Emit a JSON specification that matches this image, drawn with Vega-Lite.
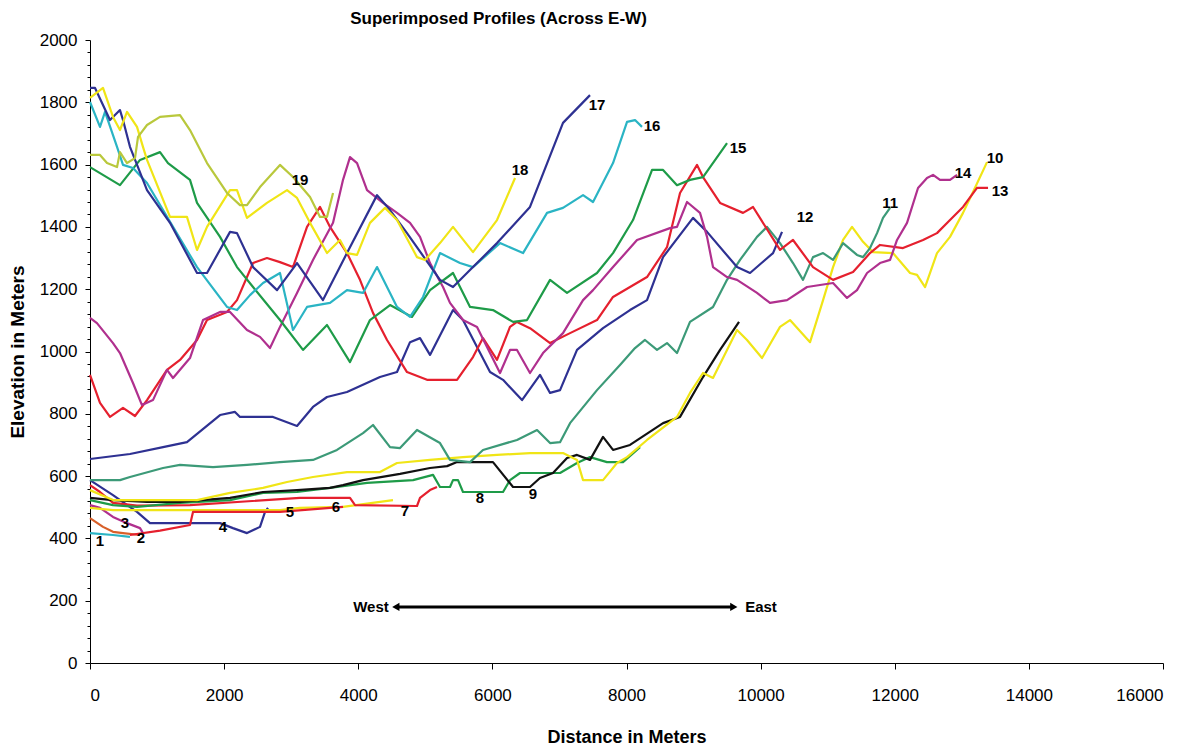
{
"$schema": "https://vega.github.io/schema/vega-lite/v6.json",
"width": 1073, "height": 623,
"autosize": "none",
"padding": {"left": 90, "top": 40, "right": 34, "bottom": 88},
"background": "white",
"config": {"view": {"stroke": null}},
"title": {"text": "Superimposed Profiles (Across E-W)", "font": "Liberation Sans", "fontSize": 17, "fontWeight": "bold", "anchor": "middle", "dx": -128, "offset": 3, "color": "black"},
"resolve": {"axis": {"y": "independent"}},
"datasets": {
"lines": [
{"s":"1","x":0,"y":417},{"s":"1","x":343,"y":411},{"s":"1","x":596,"y":405},
{"s":"2","x":0,"y":465},{"s":"2","x":194,"y":437},{"s":"2","x":343,"y":421},{"s":"2","x":492,"y":417},{"s":"2","x":746,"y":411},
{"s":"3","x":0,"y":507},{"s":"3","x":149,"y":498},{"s":"3","x":343,"y":469},{"s":"3","x":552,"y":449},{"s":"3","x":746,"y":433},{"s":"3","x":790,"y":417},
{"s":"4","x":0,"y":587},{"s":"4","x":343,"y":539},{"s":"4","x":701,"y":485},{"s":"4","x":895,"y":449},{"s":"4","x":1939,"y":449},{"s":"4","x":2132,"y":433},{"s":"4","x":2341,"y":417},{"s":"4","x":2535,"y":437},{"s":"4","x":2610,"y":485},{"s":"4","x":2654,"y":498},
{"s":"5","x":0,"y":498},{"s":"5","x":343,"y":491},{"s":"5","x":2833,"y":491},{"s":"5","x":3131,"y":498},{"s":"5","x":3773,"y":501},{"s":"5","x":4518,"y":523},
{"s":"6","x":596,"y":411},{"s":"6","x":1044,"y":425},{"s":"6","x":1491,"y":443},{"s":"6","x":1536,"y":485},{"s":"6","x":2833,"y":485},{"s":"6","x":3579,"y":498},{"s":"6","x":3773,"y":501},
{"s":"7","x":0,"y":571},{"s":"7","x":149,"y":549},{"s":"7","x":343,"y":514},{"s":"7","x":701,"y":505},{"s":"7","x":1491,"y":507},{"s":"7","x":3131,"y":530},{"s":"7","x":3877,"y":530},{"s":"7","x":3952,"y":507},{"s":"7","x":4876,"y":504},{"s":"7","x":4921,"y":530},{"s":"7","x":5070,"y":555},{"s":"7","x":5174,"y":565},
{"s":"8","x":0,"y":523},{"s":"8","x":343,"y":507},{"s":"8","x":701,"y":501},{"s":"8","x":1342,"y":514},{"s":"8","x":2088,"y":523},{"s":"8","x":2580,"y":546},{"s":"8","x":3087,"y":549},{"s":"8","x":3579,"y":562},{"s":"8","x":4131,"y":578},{"s":"8","x":4817,"y":587},{"s":"8","x":5115,"y":604},{"s":"8","x":5219,"y":565},{"s":"8","x":5368,"y":565},{"s":"8","x":5413,"y":587},{"s":"8","x":5488,"y":587},{"s":"8","x":5562,"y":549},{"s":"8","x":6159,"y":549},{"s":"8","x":6263,"y":587},{"s":"8","x":6412,"y":610},{"s":"8","x":7009,"y":610},{"s":"8","x":7262,"y":642},{"s":"8","x":7456,"y":661},{"s":"8","x":7709,"y":645},{"s":"8","x":7948,"y":645},{"s":"8","x":8202,"y":693},
{"s":"9","x":0,"y":530},{"s":"9","x":343,"y":523},{"s":"9","x":850,"y":517},{"s":"9","x":1342,"y":517},{"s":"9","x":2088,"y":530},{"s":"9","x":2580,"y":549},{"s":"9","x":3087,"y":555},{"s":"9","x":3579,"y":562},{"s":"9","x":3773,"y":571},{"s":"9","x":4071,"y":587},{"s":"9","x":4623,"y":607},{"s":"9","x":5070,"y":626},{"s":"9","x":5324,"y":632},{"s":"9","x":5473,"y":645},{"s":"9","x":6009,"y":645},{"s":"9","x":6308,"y":565},{"s":"9","x":6561,"y":565},{"s":"9","x":6710,"y":594},{"s":"9","x":6904,"y":610},{"s":"9","x":7113,"y":658},{"s":"9","x":7262,"y":668},{"s":"9","x":7456,"y":652},{"s":"9","x":7650,"y":726},{"s":"9","x":7799,"y":684},{"s":"9","x":8052,"y":700},{"s":"9","x":8545,"y":770},{"s":"9","x":8798,"y":790},{"s":"9","x":9141,"y":918},{"s":"9","x":9395,"y":1005},{"s":"9","x":9678,"y":1095},
{"s":"10","x":0,"y":555},{"s":"10","x":343,"y":523},{"s":"10","x":1596,"y":523},{"s":"10","x":2088,"y":546},{"s":"10","x":2580,"y":562},{"s":"10","x":2938,"y":581},{"s":"10","x":3325,"y":597},{"s":"10","x":3832,"y":613},{"s":"10","x":4324,"y":613},{"s":"10","x":4578,"y":642},{"s":"10","x":5070,"y":652},{"s":"10","x":5562,"y":661},{"s":"10","x":6069,"y":668},{"s":"10","x":6561,"y":674},{"s":"10","x":7053,"y":674},{"s":"10","x":7262,"y":652},{"s":"10","x":7352,"y":587},{"s":"10","x":7650,"y":587},{"s":"10","x":7858,"y":642},{"s":"10","x":8008,"y":661},{"s":"10","x":8306,"y":716},{"s":"10","x":8753,"y":790},{"s":"10","x":8947,"y":867},{"s":"10","x":9141,"y":931},{"s":"10","x":9290,"y":915},{"s":"10","x":9499,"y":1005},{"s":"10","x":9648,"y":1069},{"s":"10","x":9797,"y":1037},{"s":"10","x":10021,"y":979},{"s":"10","x":10289,"y":1079},{"s":"10","x":10438,"y":1101},{"s":"10","x":10737,"y":1030},{"s":"10","x":10931,"y":1165},{"s":"10","x":11080,"y":1271},{"s":"10","x":11229,"y":1358},{"s":"10","x":11363,"y":1400},{"s":"10","x":11527,"y":1352},{"s":"10","x":11676,"y":1319},{"s":"10","x":11974,"y":1316},{"s":"10","x":12228,"y":1252},{"s":"10","x":12332,"y":1246},{"s":"10","x":12452,"y":1207},{"s":"10","x":12630,"y":1316},{"s":"10","x":12824,"y":1368},{"s":"10","x":13018,"y":1445},{"s":"10","x":13167,"y":1512},{"s":"10","x":13376,"y":1608},
{"s":"11","x":0,"y":587},{"s":"11","x":447,"y":587},{"s":"11","x":596,"y":597},{"s":"11","x":1089,"y":626},{"s":"11","x":1342,"y":636},{"s":"11","x":1834,"y":629},{"s":"11","x":2341,"y":636},{"s":"11","x":2833,"y":645},{"s":"11","x":3325,"y":652},{"s":"11","x":3683,"y":684},{"s":"11","x":4071,"y":738},{"s":"11","x":4220,"y":764},{"s":"11","x":4474,"y":693},{"s":"11","x":4623,"y":690},{"s":"11","x":4876,"y":748},{"s":"11","x":5219,"y":706},{"s":"11","x":5368,"y":652},{"s":"11","x":5667,"y":645},{"s":"11","x":5860,"y":684},{"s":"11","x":6367,"y":716},{"s":"11","x":6666,"y":748},{"s":"11","x":6860,"y":706},{"s":"11","x":7009,"y":709},{"s":"11","x":7158,"y":770},{"s":"11","x":7560,"y":876},{"s":"11","x":7903,"y":957},{"s":"11","x":8127,"y":1011},{"s":"11","x":8276,"y":1037},{"s":"11","x":8455,"y":1005},{"s":"11","x":8604,"y":1027},{"s":"11","x":8753,"y":995},{"s":"11","x":8947,"y":1095},{"s":"11","x":9290,"y":1143},{"s":"11","x":9499,"y":1230},{"s":"11","x":9693,"y":1294},{"s":"11","x":9946,"y":1368},{"s":"11","x":10095,"y":1400},{"s":"11","x":10289,"y":1348},{"s":"11","x":10483,"y":1284},{"s":"11","x":10632,"y":1230},{"s":"11","x":10781,"y":1303},{"s":"11","x":10931,"y":1316},{"s":"11","x":11080,"y":1294},{"s":"11","x":11229,"y":1348},{"s":"11","x":11437,"y":1310},{"s":"11","x":11527,"y":1303},{"s":"11","x":11631,"y":1332},{"s":"11","x":11736,"y":1380},{"s":"11","x":11825,"y":1429},{"s":"11","x":11930,"y":1461},
{"s":"12","x":0,"y":655},{"s":"12","x":596,"y":671},{"s":"12","x":1089,"y":693},{"s":"12","x":1446,"y":709},{"s":"12","x":1939,"y":796},{"s":"12","x":2162,"y":806},{"s":"12","x":2237,"y":790},{"s":"12","x":2729,"y":790},{"s":"12","x":3087,"y":761},{"s":"12","x":3325,"y":822},{"s":"12","x":3534,"y":854},{"s":"12","x":3832,"y":870},{"s":"12","x":4324,"y":918},{"s":"12","x":4578,"y":934},{"s":"12","x":4772,"y":1030},{"s":"12","x":4921,"y":1043},{"s":"12","x":5070,"y":989},{"s":"12","x":5413,"y":1133},{"s":"12","x":5562,"y":1101},{"s":"12","x":5965,"y":934},{"s":"12","x":6159,"y":909},{"s":"12","x":6442,"y":844},{"s":"12","x":6710,"y":925},{"s":"12","x":6860,"y":867},{"s":"12","x":7009,"y":876},{"s":"12","x":7262,"y":1005},{"s":"12","x":7650,"y":1075},{"s":"12","x":8052,"y":1133},{"s":"12","x":8306,"y":1165},{"s":"12","x":8545,"y":1303},{"s":"12","x":8992,"y":1429},{"s":"12","x":9201,"y":1384},{"s":"12","x":9648,"y":1271},{"s":"12","x":9842,"y":1252},{"s":"12","x":10185,"y":1316},{"s":"12","x":10319,"y":1384},
{"s":"13","x":0,"y":925},{"s":"13","x":149,"y":835},{"s":"13","x":298,"y":790},{"s":"13","x":492,"y":819},{"s":"13","x":671,"y":793},{"s":"13","x":850,"y":844},{"s":"13","x":1148,"y":941},{"s":"13","x":1342,"y":973},{"s":"13","x":1596,"y":1037},{"s":"13","x":1745,"y":1101},{"s":"13","x":2043,"y":1127},{"s":"13","x":2192,"y":1165},{"s":"13","x":2431,"y":1284},{"s":"13","x":2639,"y":1300},{"s":"13","x":2833,"y":1287},{"s":"13","x":3027,"y":1271},{"s":"13","x":3236,"y":1400},{"s":"13","x":3430,"y":1464},{"s":"13","x":3579,"y":1400},{"s":"13","x":3832,"y":1316},{"s":"13","x":4026,"y":1230},{"s":"13","x":4220,"y":1124},{"s":"13","x":4429,"y":1037},{"s":"13","x":4727,"y":934},{"s":"13","x":5025,"y":909},{"s":"13","x":5473,"y":909},{"s":"13","x":5711,"y":982},{"s":"13","x":5860,"y":1043},{"s":"13","x":6069,"y":973},{"s":"13","x":6263,"y":1079},{"s":"13","x":6367,"y":1095},{"s":"13","x":6561,"y":1075},{"s":"13","x":6860,"y":1027},{"s":"13","x":7158,"y":1059},{"s":"13","x":7560,"y":1101},{"s":"13","x":7799,"y":1175},{"s":"13","x":8306,"y":1239},{"s":"13","x":8604,"y":1335},{"s":"13","x":8798,"y":1509},{"s":"13","x":9052,"y":1599},{"s":"13","x":9141,"y":1560},{"s":"13","x":9395,"y":1477},{"s":"13","x":9738,"y":1445},{"s":"13","x":9887,"y":1464},{"s":"13","x":10289,"y":1326},{"s":"13","x":10483,"y":1358},{"s":"13","x":10781,"y":1271},{"s":"13","x":11080,"y":1230},{"s":"13","x":11378,"y":1255},{"s":"13","x":11631,"y":1316},{"s":"13","x":11780,"y":1342},{"s":"13","x":12123,"y":1332},{"s":"13","x":12422,"y":1358},{"s":"13","x":12630,"y":1380},{"s":"13","x":12824,"y":1422},{"s":"13","x":13018,"y":1464},{"s":"13","x":13227,"y":1525},{"s":"13","x":13391,"y":1525},
{"s":"14","x":0,"y":1108},{"s":"14","x":104,"y":1091},{"s":"14","x":343,"y":1027},{"s":"14","x":447,"y":995},{"s":"14","x":641,"y":899},{"s":"14","x":775,"y":828},{"s":"14","x":939,"y":844},{"s":"14","x":1148,"y":941},{"s":"14","x":1238,"y":915},{"s":"14","x":1491,"y":979},{"s":"14","x":1685,"y":1101},{"s":"14","x":1939,"y":1127},{"s":"14","x":2088,"y":1127},{"s":"14","x":2341,"y":1069},{"s":"14","x":2535,"y":1047},{"s":"14","x":2684,"y":1011},{"s":"14","x":2833,"y":1079},{"s":"14","x":3087,"y":1188},{"s":"14","x":3325,"y":1294},{"s":"14","x":3624,"y":1413},{"s":"14","x":3773,"y":1551},{"s":"14","x":3877,"y":1624},{"s":"14","x":3982,"y":1605},{"s":"14","x":4131,"y":1518},{"s":"14","x":4369,"y":1477},{"s":"14","x":4578,"y":1445},{"s":"14","x":4772,"y":1413},{"s":"14","x":4921,"y":1368},{"s":"14","x":5070,"y":1284},{"s":"14","x":5264,"y":1207},{"s":"14","x":5368,"y":1156},{"s":"14","x":5562,"y":1101},{"s":"14","x":5771,"y":1079},{"s":"14","x":5965,"y":995},{"s":"14","x":6114,"y":931},{"s":"14","x":6263,"y":1005},{"s":"14","x":6367,"y":1005},{"s":"14","x":6561,"y":931},{"s":"14","x":6755,"y":995},{"s":"14","x":7053,"y":1059},{"s":"14","x":7352,"y":1165},{"s":"14","x":7501,"y":1197},{"s":"14","x":7799,"y":1271},{"s":"14","x":8157,"y":1358},{"s":"14","x":8649,"y":1396},{"s":"14","x":8753,"y":1400},{"s":"14","x":8903,"y":1480},{"s":"14","x":9096,"y":1445},{"s":"14","x":9201,"y":1368},{"s":"14","x":9290,"y":1271},{"s":"14","x":9499,"y":1239},{"s":"14","x":9648,"y":1230},{"s":"14","x":9946,"y":1188},{"s":"14","x":10140,"y":1156},{"s":"14","x":10394,"y":1165},{"s":"14","x":10692,"y":1207},{"s":"14","x":11080,"y":1220},{"s":"14","x":11288,"y":1172},{"s":"14","x":11437,"y":1197},{"s":"14","x":11587,"y":1252},{"s":"14","x":11780,"y":1284},{"s":"14","x":11930,"y":1294},{"s":"14","x":12034,"y":1358},{"s":"14","x":12183,"y":1413},{"s":"14","x":12347,"y":1525},{"s":"14","x":12481,"y":1557},{"s":"14","x":12571,"y":1567},{"s":"14","x":12675,"y":1551},{"s":"14","x":12824,"y":1551},{"s":"14","x":12929,"y":1567},
{"s":"15","x":0,"y":1592},{"s":"15","x":447,"y":1534},{"s":"15","x":746,"y":1615},{"s":"15","x":1044,"y":1640},{"s":"15","x":1163,"y":1605},{"s":"15","x":1491,"y":1551},{"s":"15","x":1596,"y":1477},{"s":"15","x":1939,"y":1368},{"s":"15","x":2192,"y":1271},{"s":"15","x":2431,"y":1207},{"s":"15","x":2833,"y":1101},{"s":"15","x":3176,"y":1005},{"s":"15","x":3534,"y":1085},{"s":"15","x":3877,"y":966},{"s":"15","x":4175,"y":1101},{"s":"15","x":4474,"y":1149},{"s":"15","x":4802,"y":1111},{"s":"15","x":5070,"y":1197},{"s":"15","x":5413,"y":1252},{"s":"15","x":5667,"y":1143},{"s":"15","x":6009,"y":1133},{"s":"15","x":6308,"y":1095},{"s":"15","x":6517,"y":1101},{"s":"15","x":6860,"y":1230},{"s":"15","x":7113,"y":1188},{"s":"15","x":7560,"y":1252},{"s":"15","x":7799,"y":1316},{"s":"15","x":8097,"y":1422},{"s":"15","x":8381,"y":1583},{"s":"15","x":8545,"y":1583},{"s":"15","x":8753,"y":1534},{"s":"15","x":8947,"y":1551},{"s":"15","x":9141,"y":1560},{"s":"15","x":9499,"y":1669},
{"s":"16","x":0,"y":1801},{"s":"16","x":149,"y":1721},{"s":"16","x":224,"y":1769},{"s":"16","x":403,"y":1657},{"s":"16","x":492,"y":1599},{"s":"16","x":641,"y":1589},{"s":"16","x":850,"y":1541},{"s":"16","x":1238,"y":1400},{"s":"16","x":1596,"y":1271},{"s":"16","x":2043,"y":1143},{"s":"16","x":2192,"y":1133},{"s":"16","x":2386,"y":1181},{"s":"16","x":2580,"y":1220},{"s":"16","x":2833,"y":1252},{"s":"16","x":3027,"y":1069},{"s":"16","x":3236,"y":1143},{"s":"16","x":3579,"y":1156},{"s":"16","x":3832,"y":1197},{"s":"16","x":4071,"y":1188},{"s":"16","x":4280,"y":1271},{"s":"16","x":4578,"y":1143},{"s":"16","x":4772,"y":1111},{"s":"16","x":4966,"y":1175},{"s":"16","x":5219,"y":1316},{"s":"16","x":5517,"y":1284},{"s":"16","x":5711,"y":1271},{"s":"16","x":6114,"y":1348},{"s":"16","x":6457,"y":1316},{"s":"16","x":6815,"y":1445},{"s":"16","x":7053,"y":1461},{"s":"16","x":7352,"y":1502},{"s":"16","x":7501,"y":1480},{"s":"16","x":7799,"y":1605},{"s":"16","x":8008,"y":1737},{"s":"16","x":8127,"y":1743},{"s":"16","x":8231,"y":1721},
{"s":"17","x":0,"y":1846},{"s":"17","x":75,"y":1846},{"s":"17","x":298,"y":1743},{"s":"17","x":447,"y":1775},{"s":"17","x":492,"y":1743},{"s":"17","x":596,"y":1657},{"s":"17","x":850,"y":1518},{"s":"17","x":1193,"y":1413},{"s":"17","x":1596,"y":1252},{"s":"17","x":1745,"y":1252},{"s":"17","x":2088,"y":1384},{"s":"17","x":2192,"y":1380},{"s":"17","x":2431,"y":1271},{"s":"17","x":2789,"y":1197},{"s":"17","x":3087,"y":1284},{"s":"17","x":3474,"y":1165},{"s":"17","x":3832,"y":1316},{"s":"17","x":4280,"y":1502},{"s":"17","x":4474,"y":1454},{"s":"17","x":4727,"y":1380},{"s":"17","x":5219,"y":1230},{"s":"17","x":5413,"y":1207},{"s":"17","x":5711,"y":1271},{"s":"17","x":6069,"y":1348},{"s":"17","x":6561,"y":1464},{"s":"17","x":7053,"y":1734},{"s":"17","x":7456,"y":1823},
{"s":"18","x":0,"y":1814},{"s":"18","x":194,"y":1846},{"s":"18","x":343,"y":1753},{"s":"18","x":447,"y":1711},{"s":"18","x":552,"y":1769},{"s":"18","x":701,"y":1721},{"s":"18","x":790,"y":1657},{"s":"18","x":850,"y":1615},{"s":"18","x":1193,"y":1432},{"s":"18","x":1446,"y":1432},{"s":"18","x":1596,"y":1326},{"s":"18","x":1745,"y":1400},{"s":"18","x":2088,"y":1518},{"s":"18","x":2192,"y":1518},{"s":"18","x":2341,"y":1429},{"s":"18","x":2639,"y":1477},{"s":"18","x":2938,"y":1518},{"s":"18","x":3087,"y":1493},{"s":"18","x":3281,"y":1413},{"s":"18","x":3534,"y":1316},{"s":"18","x":3728,"y":1358},{"s":"18","x":3832,"y":1316},{"s":"18","x":3982,"y":1310},{"s":"18","x":4175,"y":1413},{"s":"18","x":4399,"y":1461},{"s":"18","x":4578,"y":1422},{"s":"18","x":4876,"y":1303},{"s":"18","x":4996,"y":1294},{"s":"18","x":5219,"y":1348},{"s":"18","x":5413,"y":1400},{"s":"18","x":5711,"y":1319},{"s":"18","x":6069,"y":1422},{"s":"18","x":6338,"y":1557},
{"s":"19","x":0,"y":1631},{"s":"19","x":149,"y":1631},{"s":"19","x":254,"y":1605},{"s":"19","x":403,"y":1592},{"s":"19","x":447,"y":1640},{"s":"19","x":552,"y":1605},{"s":"19","x":671,"y":1621},{"s":"19","x":716,"y":1689},{"s":"19","x":850,"y":1727},{"s":"19","x":1044,"y":1753},{"s":"19","x":1342,"y":1759},{"s":"19","x":1491,"y":1711},{"s":"19","x":1745,"y":1605},{"s":"19","x":2043,"y":1509},{"s":"19","x":2237,"y":1470},{"s":"19","x":2341,"y":1470},{"s":"19","x":2535,"y":1528},{"s":"19","x":2833,"y":1599},{"s":"19","x":3027,"y":1560},{"s":"19","x":3281,"y":1496},{"s":"19","x":3430,"y":1432},{"s":"19","x":3534,"y":1432},{"s":"19","x":3624,"y":1509}
],
"labels": [
{"t":"1","x":149,"y":392},{"t":"2","x":760,"y":401},{"t":"3","x":522,"y":449},{"t":"4","x":1983,"y":437},{"t":"5","x":2982,"y":485},{"t":"6","x":3668,"y":501},{"t":"7","x":4697,"y":488},{"t":"8","x":5816,"y":530},{"t":"9","x":6606,"y":543},{"t":"10","x":13495,"y":1621},{"t":"11","x":11930,"y":1477},{"t":"12","x":10662,"y":1432},{"t":"13","x":13570,"y":1515},{"t":"14","x":13018,"y":1573},{"t":"15","x":9663,"y":1653},{"t":"16","x":8381,"y":1724},{"t":"17","x":7560,"y":1791},{"t":"18","x":6412,"y":1583},{"t":"19","x":3131,"y":1551}
],
"dirs": [{"t":"West","x":4190,"y":180},{"t":"East","x":10006,"y":180}],
"arrow": [{"x":4600,"y":180},{"x":9560,"y":180}]
},
"layer": [
{
"data": {"name": "lines"},
"mark": {"type": "line", "strokeWidth": 2.2, "strokeJoin": "round"},
"encoding": {
"x": {"field": "x", "type": "quantitative", "scale": {"domain": [0, 16000], "nice": false}, "axis": {"values": [0,2000,4000,6000,8000,10000,12000,14000,16000], "format": "d", "grid": false, "domainColor": "black", "tickColor": "black", "tickSize": 6, "labelFont": "Liberation Sans", "labelFontSize": 17, "labelColor": "black", "labelPadding": 18, "title": "Distance in Meters", "titleFont": "Liberation Sans", "titleFontSize": 18, "titleFontWeight": "bold", "titleColor": "black", "titlePadding": 25}},
"y": {"field": "y", "type": "quantitative", "scale": {"domain": [0, 2000], "nice": false}, "axis": {"values": [0,200,400,600,800,1000,1200,1400,1600,1800,2000], "format": "d", "grid": false, "domainColor": "black", "tickColor": "black", "tickSize": 5, "labelFont": "Liberation Sans", "labelFontSize": 17, "labelColor": "black", "labelPadding": 8, "title": "Elevation in Meters", "titleFont": "Liberation Sans", "titleFontSize": 19, "titleFontWeight": "bold", "titleColor": "black", "titlePadding": 12}},
"color": {"field": "s", "type": "nominal", "legend": null, "scale": {"domain": ["1","2","3","4","5","6","7","8","9","10","11","12","13","14","15","16","17","18","19"], "range": ["#2AB4C4","#D8602A","#B0308E","#2E3192","#F0E516","#E5202E","#E5202E","#1E9B48","#111111","#F0E516","#3C9A78","#2E3192","#E5202E","#B0308E","#1E9B48","#2AB4C4","#2E3192","#F0E516","#B9C83C"]}}
}
},
{
"data": {"name": "labels"},
"mark": {"type": "text", "font": "Liberation Sans", "fontSize": 15, "fontWeight": "bold", "color": "black", "align": "center", "baseline": "middle"},
"encoding": {"x": {"field": "x", "type": "quantitative"}, "y": {"field": "y", "type": "quantitative", "axis": null}, "text": {"field": "t"}}
},
{
"data": {"name": "arrow"},
"mark": {"type": "line", "strokeWidth": 3, "color": "black"},
"encoding": {"x": {"field": "x", "type": "quantitative"}, "y": {"field": "y", "type": "quantitative", "axis": {"orient": "left", "values": [40,80,120,160,240,280,320,360,440,480,520,560,640,680,720,760,840,880,920,960,1040,1080,1120,1160,1240,1280,1320,1360,1440,1480,1520,1560,1640,1680,1720,1760,1840,1880,1920,1960], "labels": false, "domain": false, "grid": false, "tickColor": "black", "tickSize": 3, "title": null}}}
},
{
"data": {"values": [{"x":4560,"y":180}]},
"mark": {"type": "point", "shape": "triangle-left", "filled": true, "color": "black", "size": 70, "opacity": 1},
"encoding": {"x": {"field": "x", "type": "quantitative"}, "y": {"field": "y", "type": "quantitative", "axis": null}}
},
{
"data": {"values": [{"x":9600,"y":180}]},
"mark": {"type": "point", "shape": "triangle-right", "filled": true, "color": "black", "size": 70, "opacity": 1},
"encoding": {"x": {"field": "x", "type": "quantitative"}, "y": {"field": "y", "type": "quantitative", "axis": null}}
},
{
"data": {"name": "dirs"},
"mark": {"type": "text", "font": "Liberation Sans", "fontSize": 15, "fontWeight": "bold", "color": "black", "align": "center", "baseline": "middle"},
"encoding": {"x": {"field": "x", "type": "quantitative"}, "y": {"field": "y", "type": "quantitative", "axis": null}, "text": {"field": "t"}}
}
]
}
